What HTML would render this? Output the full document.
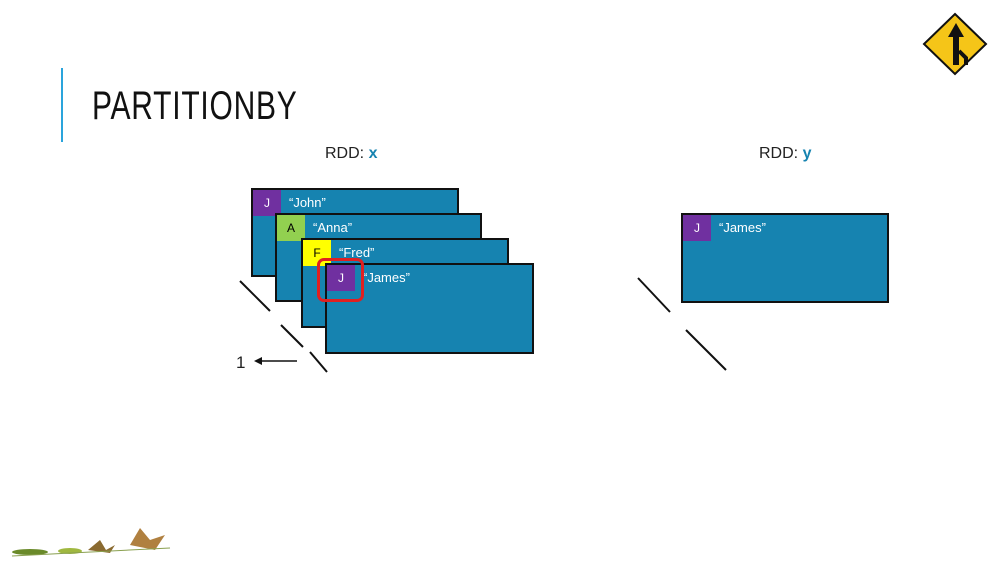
<!DOCTYPE html>
<html><head><style>
body{margin:0;width:1000px;height:563px;background:#fff;position:relative;overflow:hidden;font-family:"Liberation Sans",sans-serif}
.b{position:absolute;width:205px;height:87px;background:#1683b0;border:2px solid #111;box-sizing:border-box}
.k{position:absolute;left:0;top:0;width:28px;height:26px;color:#fff;font-size:12px;text-align:center;line-height:26px}
.t{position:absolute;left:36px;top:5px;color:#fff;font-size:13px}
.l{position:absolute;font-size:16px;color:#222}
</style></head><body>
<div style="position:absolute;left:61px;top:68px;width:2px;height:74px;background:#2aa4dc"></div>
<div style="position:absolute;left:92px;top:84px;font-size:40px;letter-spacing:1px;color:#111;transform:scaleX(0.75);transform-origin:left">PARTITIONBY</div>
<div class="l" style="left:325px;top:145px">RDD: <b style="color:#1683b0">x</b></div>
<div class="l" style="left:759px;top:145px">RDD: <b style="color:#1683b0">y</b></div>
<div class="b" style="left:251px;top:188px;width:208px;height:89px"><div class="k" style="background:#7030a0">J</div><div class="t">“John”</div></div>
<div class="b" style="left:275px;top:213px;width:207px;height:89px"><div class="k" style="background:#92d050;color:#000">A</div><div class="t">“Anna”</div></div>
<div class="b" style="left:301px;top:238px;width:208px;height:90px"><div class="k" style="background:#ffff00;color:#000">F</div><div class="t">“Fred”</div></div>
<div class="b" style="left:325px;top:263px;width:209px;height:91px"><div class="k" style="background:#7030a0">J</div><div class="t">“James”</div></div>
<div style="position:absolute;left:317px;top:258px;width:41px;height:38px;border:3px solid #e02020;border-radius:7px"></div>
<div class="b" style="left:681px;top:213px;width:208px;height:90px"><div class="k" style="background:#7030a0">J</div><div class="t">“James”</div></div>
<svg width="1000" height="563" style="position:absolute;left:0;top:0">
<g stroke="#111" stroke-width="2">
<line x1="240" y1="281" x2="270" y2="311"/><line x1="281" y1="325" x2="303" y2="347"/><line x1="310" y1="352" x2="327" y2="372"/>
<line x1="638" y1="278" x2="670" y2="312"/><line x1="686" y1="330" x2="726" y2="370"/>
<line x1="258" y1="361" x2="297" y2="361" stroke-width="1.5"/>
</g>
<polygon points="254,361 262,357 262,365" fill="#111"/>
<text x="236" y="368" font-size="17" fill="#222" font-family="Liberation Sans">1</text>
<polygon points="955,14 986,44 955,74 924,44" fill="#f5c518" stroke="#111" stroke-width="2"/>
<polygon points="956,23 964,37 959,37 959,65 953,65 953,37 948,37" fill="#111"/>
<path d="M959 51 L966 58 L966 65" stroke="#111" stroke-width="4" fill="none"/>
<ellipse cx="30" cy="552" rx="18" ry="3" fill="#6a8a2a"/>
<ellipse cx="70" cy="551" rx="12" ry="3" fill="#a0b840"/>
<path d="M88 550 L100 540 L106 550 L115 545 L110 553Z" fill="#8a6a30"/>
<path d="M130 545 L140 528 L150 540 L165 535 L155 550Z" fill="#b08040"/>
<line x1="12" y1="556" x2="170" y2="548" stroke="#8aa050" stroke-width="1"/>
</svg>
</body></html>
